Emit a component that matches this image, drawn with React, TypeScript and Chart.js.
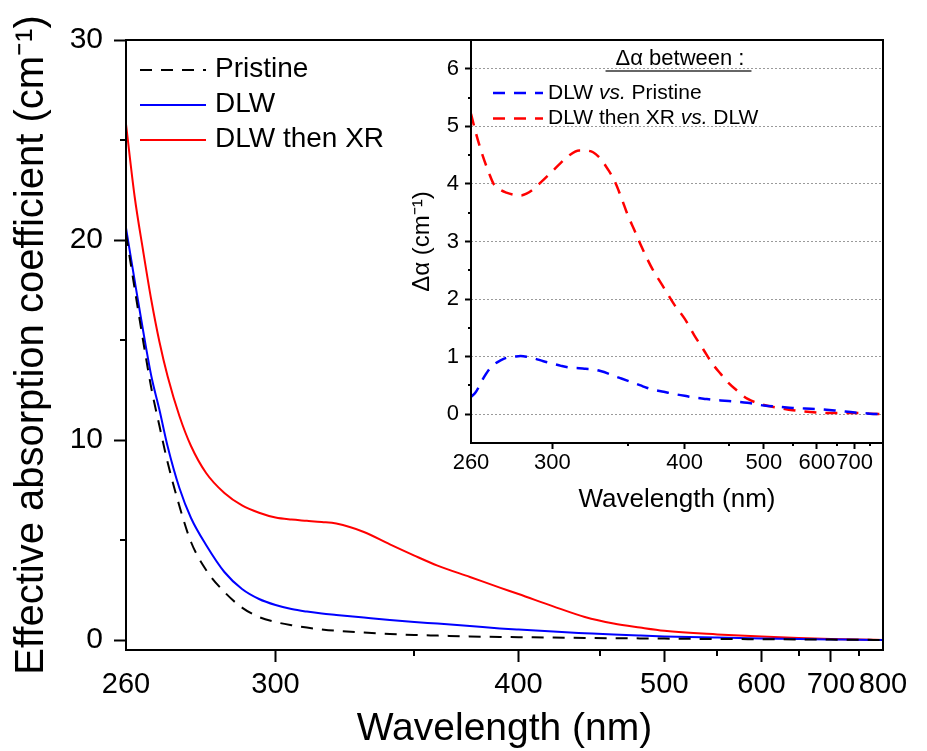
import React, { useEffect, useRef } from 'react';
import { Chart, registerables, LinearScale } from 'chart.js';

// Reciprocal (1/λ) wavelength axis, as in the reference plot
class ReciprocalScale extends LinearScale {
  static id = 'reciprocal';
  buildTicks() {
    const vals: number[] = ((this.options as any).tickValues || []) as number[];
    return vals.map((v) => ({ value: v }));
  }
  getPixelForValue(value: number) {
    const a = 1 / this.min;
    const b = 1 / this.max;
    return this.getPixelForDecimal((a - 1 / value) / (a - b));
  }
  getValueForPixel(pixel: number) {
    const a = 1 / this.min;
    const b = 1 / this.max;
    return 1 / (a - this.getDecimalForPixel(pixel) * (a - b));
  }
}
Chart.register(...registerables, ReciprocalScale as any);

const FONT = '"Liberation Sans", Arial, Helvetica, sans-serif';
Chart.defaults.font.family = FONT;
Chart.defaults.color = '#000';

// ---------------- DATA ----------------
const mainWavelengths = [260, 262, 264, 266, 268, 270, 273, 276, 280, 285, 290, 295, 300, 305, 310, 315, 320, 330, 340, 350, 360, 375, 390, 400, 420, 440, 460, 480, 500, 550, 600, 650, 700, 750, 800];
const pristine = [20.3, 17.6, 15.0, 12.6, 10.7, 8.9, 6.7, 4.9, 3.5, 2.4, 1.62, 1.15, 0.9, 0.74, 0.62, 0.53, 0.46, 0.37, 0.3, 0.25, 0.22, 0.18, 0.15, 0.14, 0.12, 0.1, 0.09, 0.08, 0.07, 0.05, 0.04, 0.03, 0.02, 0.01, 0.0];
const dlw = [20.6, 18.0, 15.5, 13.2, 11.5, 9.7, 7.6, 6.1, 4.75, 3.4, 2.55, 2.05, 1.75, 1.55, 1.42, 1.32, 1.25, 1.12, 1.0, 0.9, 0.82, 0.7, 0.58, 0.52, 0.42, 0.34, 0.27, 0.22, 0.18, 0.12, 0.08, 0.05, 0.03, 0.01, 0.0];
const dlwThenXr = [25.8, 22.2, 19.5, 17.0, 14.9, 13.2, 11.2, 9.7, 8.35, 7.35, 6.73, 6.36, 6.12, 6.02, 5.96, 5.9, 5.82, 5.4, 4.78, 4.22, 3.72, 3.15, 2.62, 2.3, 1.68, 1.15, 0.82, 0.62, 0.46, 0.28, 0.17, 0.1, 0.05, 0.02, 0.0];
const mainSeriesLabels = ['Pristine', 'DLW', 'DLW then XR'];
const mainXTicks = [260, 300, 400, 500, 600, 700, 800];
const mainXTickLabels = ['260', '300', '400', '500', '600', '700', '800'];
const mainXMinorTicks = [350, 450, 550, 650, 750];
const mainYTicks = [0, 10, 20, 30];
const mainYMinorTicks = [5, 15, 25];

const insetWavelengths = [260, 262, 265, 268, 270, 273, 276, 280, 283, 286, 290, 295, 300, 305, 310, 316, 320, 325, 330, 335, 340, 345, 350, 355, 360, 365, 370, 380, 390, 400, 410, 420, 430, 440, 450, 460, 475, 500, 525, 550, 600, 650, 700, 750, 800];
const dlwVsPristine = [0.3, 0.38, 0.6, 0.78, 0.86, 0.93, 0.98, 1.0, 1.01, 1.0, 0.97, 0.92, 0.88, 0.84, 0.81, 0.8, 0.79, 0.78, 0.75, 0.71, 0.66, 0.62, 0.58, 0.54, 0.5, 0.46, 0.43, 0.39, 0.35, 0.32, 0.29, 0.27, 0.25, 0.24, 0.23, 0.22, 0.2, 0.15, 0.13, 0.11, 0.09, 0.06, 0.03, 0.01, 0.0];
const xrVsDlw = [5.22, 4.9, 4.5, 4.18, 4.0, 3.9, 3.85, 3.81, 3.8, 3.83, 3.92, 4.07, 4.22, 4.37, 4.5, 4.58, 4.58, 4.55, 4.44, 4.26, 4.05, 3.76, 3.45, 3.2, 2.95, 2.72, 2.52, 2.2, 1.9, 1.66, 1.37, 1.12, 0.88, 0.7, 0.54, 0.42, 0.27, 0.16, 0.11, 0.07, 0.03, 0.02, 0.02, 0.01, 0.0];
const insetSeriesLabels = ['DLW vs. Pristine', 'DLW then XR vs. DLW'];
const insetLegendTitle = 'Δα between :';
const insetXTicks = [260, 300, 400, 500, 600, 700, 800];
const insetXTickLabels = ['260', '300', '400', '500', '600', '700', ''];
const insetXMinorTicks = [350, 450, 550, 650, 750];
const insetYTicks = [0, 1, 2, 3, 4, 5, 6];
const insetYMinorTicks = [0.5, 1.5, 2.5, 3.5, 4.5, 5.5];

// ---------------- PLUGINS ----------------
function framePlugin() {
  return {
    id: 'frame',
    afterDraw(chart: any) {
      const { ctx, chartArea: a } = chart;
      ctx.save();
      ctx.strokeStyle = '#000';
      ctx.lineWidth = 2;
      ctx.setLineDash([]);
      ctx.strokeRect(a.left, a.top, a.right - a.left, a.bottom - a.top);
      ctx.restore();
    },
  };
}

function minorTicksPlugin(xVals: number[], yVals: number[], length: number) {
  return {
    id: 'minorTicks',
    afterDraw(chart: any) {
      const { ctx, chartArea: a, scales } = chart;
      ctx.save();
      ctx.strokeStyle = '#000';
      ctx.lineWidth = 2;
      ctx.setLineDash([]);
      ctx.beginPath();
      xVals.forEach((v) => {
        const px = Math.round(scales.x.getPixelForValue(v));
        ctx.moveTo(px, a.bottom);
        ctx.lineTo(px, a.bottom + length);
      });
      yVals.forEach((v) => {
        const py = Math.round(scales.y.getPixelForValue(v));
        ctx.moveTo(a.left - length, py);
        ctx.lineTo(a.left, py);
      });
      ctx.stroke();
      ctx.restore();
    },
  };
}

const MAIN_LEGEND = { x: 140, len: 66, gap: 9, rows: [70, 105, 140], font: 28 };
const mainLegendPlugin = {
  id: 'mainLegend',
  afterDraw(chart: any) {
    const { ctx } = chart;
    ctx.save();
    chart.data.datasets.forEach((ds: any, i: number) => {
      const y = MAIN_LEGEND.rows[i];
      ctx.strokeStyle = ds.borderColor;
      ctx.lineWidth = ds.borderWidth;
      ctx.setLineDash(ds.borderDash || []);
      ctx.beginPath();
      ctx.moveTo(MAIN_LEGEND.x, y);
      ctx.lineTo(MAIN_LEGEND.x + MAIN_LEGEND.len, y);
      ctx.stroke();
      ctx.setLineDash([]);
      ctx.fillStyle = '#000';
      ctx.font = `${MAIN_LEGEND.font}px ${FONT}`;
      ctx.textBaseline = 'middle';
      ctx.textAlign = 'left';
      ctx.fillText(ds.label, MAIN_LEGEND.x + MAIN_LEGEND.len + MAIN_LEGEND.gap, y - 1);
    });
    ctx.restore();
  },
};

const INSET_LEGEND = { titleX: 280, titleY: 59, underlineY: 71, x: 93, len: 50, gap: 5, rows: [93, 118.5], font: 21, titleFont: 22 };
const insetLegendPlugin = {
  id: 'insetLegend',
  afterDraw(chart: any) {
    const { ctx } = chart;
    ctx.save();
    ctx.fillStyle = '#000';
    ctx.textBaseline = 'middle';
    ctx.textAlign = 'left';
    ctx.font = `${INSET_LEGEND.titleFont}px ${FONT}`;
    const tw = ctx.measureText(insetLegendTitle).width;
    const tx = INSET_LEGEND.titleX - tw / 2;
    ctx.fillText(insetLegendTitle, tx, INSET_LEGEND.titleY);
    ctx.strokeStyle = '#333';
    ctx.lineWidth = 1.5;
    ctx.beginPath();
    ctx.moveTo(tx - 10, INSET_LEGEND.underlineY);
    ctx.lineTo(tx + tw + 7, INSET_LEGEND.underlineY);
    ctx.stroke();

    const normal = `${INSET_LEGEND.font}px ${FONT}`;
    const italic = `italic ${INSET_LEGEND.font}px ${FONT}`;
    chart.data.datasets.forEach((ds: any, i: number) => {
      const y = INSET_LEGEND.rows[i];
      ctx.strokeStyle = ds.borderColor;
      ctx.lineWidth = ds.borderWidth;
      ctx.setLineDash(ds.borderDash || []);
      ctx.beginPath();
      ctx.moveTo(INSET_LEGEND.x, y);
      ctx.lineTo(INSET_LEGEND.x + INSET_LEGEND.len, y);
      ctx.stroke();
      ctx.setLineDash([]);
      const parts = String(ds.label).split('vs.');
      let x = INSET_LEGEND.x + INSET_LEGEND.len + INSET_LEGEND.gap;
      ctx.font = normal;
      ctx.fillText(parts[0], x, y);
      x += ctx.measureText(parts[0]).width;
      ctx.font = italic;
      ctx.fillText('vs.', x, y);
      x += ctx.measureText('vs.').width;
      ctx.font = normal;
      ctx.fillText(parts[1] || '', x, y);
    });
    ctx.restore();
  },
};

const toPoints = (xs: number[], ys: number[]) => xs.map((x, i) => ({ x, y: ys[i] }));
const hideEdge = (edges: number[]) => (c: any) => (c.tick && edges.includes(c.tick.value) ? 'rgba(0,0,0,0)' : '#000');

export default function App() {
  const mainRef = useRef<HTMLCanvasElement>(null);
  const insetRef = useRef<HTMLCanvasElement>(null);

  useEffect(() => {
    const lineBase = { pointRadius: 0, fill: false, cubicInterpolationMode: 'monotone', tension: 0.3 };
    const main = new Chart(mainRef.current as HTMLCanvasElement, {
      type: 'line',
      data: {
        datasets: [
          { ...lineBase, label: mainSeriesLabels[0], data: toPoints(mainWavelengths, pristine), borderColor: '#000000', borderWidth: 2, borderDash: [12, 9] },
          { ...lineBase, label: mainSeriesLabels[1], data: toPoints(mainWavelengths, dlw), borderColor: '#0000ff', borderWidth: 2 },
          { ...lineBase, label: mainSeriesLabels[2], data: toPoints(mainWavelengths, dlwThenXr), borderColor: '#ff0000', borderWidth: 2 },
        ] as any,
      },
      options: {
        responsive: false,
        animation: false,
        events: [],
        layout: { padding: { left: 0, top: 40, right: 44, bottom: 0 } },
        plugins: { legend: { display: false }, tooltip: { enabled: false } },
        scales: {
          x: {
            type: 'reciprocal' as any,
            min: 260,
            max: 800,
            tickValues: mainXTicks,
            border: { display: false },
            grid: { drawOnChartArea: false, drawTicks: true, tickLength: 12, tickWidth: 2, tickColor: hideEdge([260, 800]), tickBorderDash: [] },
            ticks: {
              autoSkip: false, maxRotation: 0, minRotation: 0, padding: 6, color: '#000',
              font: { size: 29, family: FONT },
              callback: (_v: any, i: number) => mainXTickLabels[i],
            },
            title: { display: true, text: 'Wavelength (nm)', color: '#000', font: { size: 39, family: FONT, lineHeight: 1 }, padding: { top: 0, bottom: 2.5 } },
            afterFit: (s: any) => { s.height = 101; },
          } as any,
          y: {
            type: 'linear',
            min: -0.5,
            max: 30,
            afterBuildTicks: (s: any) => { s.ticks = mainYTicks.map((v) => ({ value: v })); },
            border: { display: false },
            grid: { drawOnChartArea: false, drawTicks: true, tickLength: 12, tickWidth: 2, tickColor: '#000', tickBorderDash: [] },
            ticks: { padding: 11, color: '#000', font: { size: 30, family: FONT }, callback: (v: any) => String(v) },
            title: { display: true, text: 'Effective absorption coefficient (cm⁻¹)', color: '#000', font: { size: 40, family: FONT, lineHeight: 1 }, padding: { top: 11.5, bottom: 0 } },
            afterFit: (s: any) => { s.width = 126; },
          } as any,
        },
      },
      plugins: [framePlugin(), minorTicksPlugin(mainXMinorTicks, mainYMinorTicks, 6), mainLegendPlugin],
    });

    const inset = new Chart(insetRef.current as HTMLCanvasElement, {
      type: 'line',
      data: {
        datasets: [
          { ...lineBase, label: insetSeriesLabels[0], data: toPoints(insetWavelengths, dlwVsPristine), borderColor: '#0000ff', borderWidth: 2.5, borderDash: [12, 9] },
          { ...lineBase, label: insetSeriesLabels[1], data: toPoints(insetWavelengths, xrVsDlw), borderColor: '#ff0000', borderWidth: 2.5, borderDash: [12, 9] },
        ] as any,
      },
      options: {
        responsive: false,
        animation: false,
        events: [],
        layout: { padding: { left: 0, top: 40, right: 44, bottom: 0 } },
        plugins: { legend: { display: false }, tooltip: { enabled: false } },
        scales: {
          x: {
            type: 'reciprocal' as any,
            min: 260,
            max: 800,
            tickValues: insetXTicks,
            border: { display: false },
            grid: { drawOnChartArea: false, drawTicks: true, tickLength: 6, tickWidth: 2, tickColor: hideEdge([260, 800]), tickBorderDash: [] },
            ticks: {
              autoSkip: false, maxRotation: 0, minRotation: 0, padding: 1, color: '#000',
              font: { size: 22, family: FONT },
              callback: (_v: any, i: number) => insetXTickLabels[i],
            },
            title: { display: true, text: 'Wavelength (nm)', color: '#000', font: { size: 26, family: FONT, lineHeight: 1 }, padding: { top: 0, bottom: 17 } },
            afterFit: (s: any) => { s.height = 87; },
          } as any,
          y: {
            type: 'linear',
            min: -0.5,
            max: 6.5,
            afterBuildTicks: (s: any) => { s.ticks = insetYTicks.map((v) => ({ value: v })); },
            border: { display: false, dash: [2, 2] },
            grid: { drawOnChartArea: true, color: '#9a9a9a', lineWidth: 1, drawTicks: true, tickLength: 6, tickWidth: 2, tickColor: '#000', tickBorderDash: [] },
            ticks: { padding: 6, color: '#000', font: { size: 22, family: FONT }, callback: (v: any) => String(v) },
            title: { display: true, text: 'Δα (cm⁻¹)', color: '#000', font: { size: 24, family: FONT, lineHeight: 1 }, padding: { top: 10, bottom: 0 } },
            afterFit: (s: any) => { s.width = 71; },
          } as any,
        },
      },
      plugins: [framePlugin(), minorTicksPlugin(insetXMinorTicks, insetYMinorTicks, 3), insetLegendPlugin],
    });

    return () => {
      main.destroy();
      inset.destroy();
    };
  }, []);

  return (
    <div style={{ position: 'absolute', left: 0, top: 0, width: 927, height: 751, background: '#fff' }}>
      <canvas ref={mainRef} width={927} height={751} style={{ position: 'absolute', left: 0, top: 0, width: 927, height: 751 }} />
      <canvas ref={insetRef} width={527} height={530} style={{ position: 'absolute', left: 400, top: 0, width: 527, height: 530 }} />
    </div>
  );
}
